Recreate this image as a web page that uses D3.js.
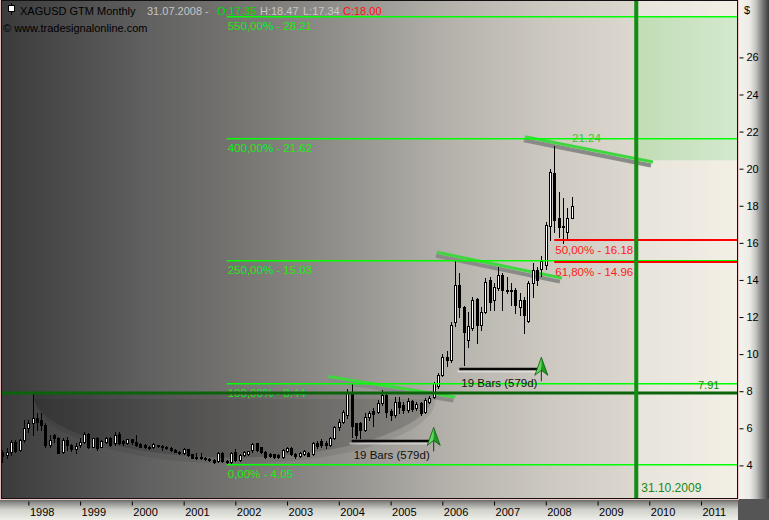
<!DOCTYPE html>
<html><head><meta charset="utf-8">
<script src="https://cdn.jsdelivr.net/npm/d3@7"></script>
<style>
body{margin:0;background:#fff}
svg{display:block}
text{font-family:"Liberation Sans",Arial,sans-serif}
</style>
</head><body>
<svg id="c" width="769" height="520"></svg>
<script>
// ---------------- DATA ----------------
const firstMonth = "1997-07-01", lastMonth = "2008-07-01";
const open = [4.74,4.56,4.74,5.28,4.83,5.37,
6.00,6.27,6.54,6.45,6.18,5.10,5.64,5.46,4.74,5.37,5.10,4.88,
5.10,5.28,5.69,5.01,5.46,5.01,5.25,5.50,5.19,5.69,5.32,5.21,
5.40,5.28,5.15,5.10,5.01,5.01,5.10,5.06,5.01,4.92,4.83,4.74,
4.65,4.87,4.60,4.44,4.45,4.40,4.33,4.29,4.22,4.69,4.25,4.18,
4.70,4.29,4.56,4.60,4.83,5.19,4.97,4.74,4.60,4.60,4.56,4.47,
4.76,4.92,4.62,4.53,4.60,4.69,4.60,5.22,5.30,5.22,5.10,5.46,
6.05,6.36,6.70,7.95,6.27,6.27,5.91,6.60,6.93,6.90,7.35,7.80,
6.95,6.72,7.44,7.26,6.99,7.49,7.08,7.35,6.90,7.44,7.71,8.30,
8.86,9.85,9.70,11.75,13.73,12.56,10.76,11.40,12.95,11.58,12.29,14.00,
12.92,13.55,14.27,13.40,13.46,13.46,12.56,12.92,11.80,13.82,14.54,14.60,
14.80,16.90,19.75,17.32,16.85,16.60,17.35];
const high = [4.83,4.92,5.37,5.35,5.45,6.45,
6.45,7.89,6.81,6.81,6.27,5.64,5.69,5.55,5.46,5.55,5.15,5.19,
5.46,5.82,5.75,5.50,5.55,5.37,5.55,5.55,5.82,5.82,5.37,5.45,
5.45,5.64,5.20,5.15,5.06,5.22,5.12,5.10,5.05,4.97,4.88,4.78,
4.92,4.90,4.62,4.65,4.65,4.45,4.38,4.33,4.74,4.72,4.30,4.70,
4.90,4.62,4.78,4.80,5.19,5.22,5.01,4.80,4.65,4.64,4.62,4.88,
5.01,4.98,4.67,4.74,4.82,4.74,5.25,5.30,5.40,5.30,5.55,6.15,
6.50,7.00,8.10,8.44,6.30,6.36,6.80,6.95,7.08,7.50,8.07,7.95,
7.03,7.71,7.71,7.40,7.62,7.55,7.40,7.44,7.62,7.75,8.50,9.00,
10.00,10.15,11.75,15.05,14.36,12.60,12.29,13.10,13.00,12.56,14.09,14.18,
13.82,14.72,14.36,14.18,13.82,13.55,13.28,13.10,13.95,14.90,14.72,15.30,
17.10,20.00,21.24,18.76,18.40,17.90,18.47];
const low = [4.20,4.38,4.56,4.70,4.75,5.28,
5.82,5.64,5.90,5.90,5.01,5.01,5.28,4.65,4.65,4.83,4.80,4.65,
5.01,5.19,4.95,4.97,4.83,4.97,5.20,5.05,5.10,5.15,5.12,5.15,
5.15,5.05,4.97,4.92,4.90,4.92,5.00,4.83,4.90,4.78,4.70,4.60,
4.60,4.50,4.38,4.36,4.35,4.29,4.22,4.15,4.18,4.18,4.05,4.15,
4.25,4.25,4.50,4.55,4.74,4.78,4.65,4.42,4.45,4.40,4.38,4.42,
4.70,4.56,4.40,4.45,4.55,4.48,4.55,4.95,5.01,4.95,5.05,5.40,
5.90,6.30,6.55,5.55,5.50,5.50,5.85,6.45,6.10,6.80,7.26,6.63,
6.45,6.63,6.85,6.85,6.90,6.95,7.00,6.72,6.85,7.35,7.65,8.20,
8.80,9.35,9.60,11.50,12.02,9.40,10.40,11.30,10.60,11.30,12.20,12.38,
12.38,13.46,12.40,13.28,12.65,12.20,12.10,11.12,11.75,13.10,13.73,14.20,
14.60,16.15,16.60,16.33,15.98,16.20,17.34];
const close = [4.51,4.74,5.28,4.78,5.37,6.03,
6.27,6.54,6.36,6.18,5.10,5.37,5.46,4.69,5.37,5.10,4.88,5.06,
5.28,5.69,5.01,5.46,4.92,5.32,5.50,5.10,5.64,5.19,5.19,5.40,
5.28,5.10,5.01,4.97,4.95,5.13,5.05,5.01,4.95,4.83,4.74,4.65,
4.87,4.56,4.42,4.40,4.38,4.33,4.29,4.20,4.69,4.22,4.16,4.65,
4.29,4.58,4.74,4.76,5.13,4.83,4.74,4.47,4.51,4.47,4.45,4.83,
4.92,4.62,4.53,4.69,4.76,4.53,5.19,5.06,5.10,5.08,5.46,6.09,
6.36,6.90,7.98,6.15,5.64,5.91,6.63,6.85,6.77,7.35,7.80,6.90,
6.72,7.44,7.17,6.97,7.49,7.03,7.31,6.81,7.55,7.62,8.42,8.87,
9.85,9.70,11.58,13.73,12.56,11.22,11.49,12.92,11.58,12.29,13.91,12.83,
13.60,14.27,13.46,13.46,13.42,12.65,12.92,12.10,13.82,14.54,14.00,15.00,
16.96,19.84,17.23,16.87,16.90,17.35,18.00];

const yTicks = [4,6,8,10,12,14,16,18,20,22,24,26];
const yearTicks = ["1998","1999","2000","2001","2002","2003","2004","2005","2006","2007","2008","2009","2010","2011"];
const xDomain = ["1998-01-01","2011-01-01"];

const fibStart = "2001-11-01";
const fibPct = ["0,00%","100,00%","250,00%","400,00%","550,00%"];
const fibVal = [4.05,8.44,15.03,21.62,28.21];
const retStart = "2008-03-01";
const retPct = ["50,00%","61,80%"];
const retVal = [16.18,14.96];
const hLineVal = 7.91;
const highLabel = 21.24;
const vLineDate = "2009-10-01";
const vLineLabel = "31.10.2009";
const zoneTop = 28.21, zoneBottom = 20.45;
const cup = {from:"1998-02-01", to:"2005-11-01", top:7.91, bottom:4.42};
const channels = [
  {d1:"2003-10-20", v1:8.79, d2:"2006-04-03", v2:7.69},
  {d1:"2005-11-24", v1:15.49, d2:"2008-04-24", v2:14.10},
  {d1:"2007-08-07", v1:21.72, d2:"2010-01-27", v2:20.36}
];
const barCounts = [
  {d1:"2004-04-01", d2:"2005-10-01", v:5.33, label:"19 Bars (579d)", arrowDate:"2005-11-01", arrowVal:6.05},
  {d1:"2006-05-01", d2:"2007-11-01", v:9.19, label:"19 Bars (579d)", arrowDate:"2007-12-01", arrowVal:9.83}
];
const headerParts = [
  {t:"XAGUSD GTM Monthly", c:"#000"},
  {t:"31.07.2008 -", c:"#c4c4c4"},
  {t:"O:17.35", c:"#00dd00"},
  {t:"H:18.47", c:"#c8c8c8"},
  {t:"L:17.34", c:"#c8c8c8"},
  {t:"C:18.00", c:"#ff1010"}
];
const headerX = [20,147,217,260,303,343];
const siteText = "\u00A9 www.tradesignalonline.com";

// ---------------- CHART ----------------
const W = 769, H = 520;
const P = {x0:2, y0:1, x1:737.5, y1:498.5};
const pd = d3.timeParse("%Y-%m-%d");
const months = d3.timeMonth.range(pd(firstMonth), d3.timeMonth.offset(pd(lastMonth),1));
const candles = months.map((d,i)=>({date:d,o:open[i],h:high[i],l:low[i],c:close[i]}));

const x = d3.scaleTime().domain(xDomain.map(pd)).range([28.4,701]);
const y = d3.scaleLinear().domain([4,26]).range([465.4,57.4]);

const svg = d3.select("#c");
const defs = svg.append("defs");
function lg(id, stops, vertical){
  const g = defs.append("linearGradient").attr("id",id)
    .attr("x1",0).attr("y1",0).attr("x2",vertical?0:1).attr("y2",vertical?1:0);
  stops.forEach(s=>g.append("stop").attr("offset",s[0]).attr("stop-color",s[1]));
}
lg("pg",[[0,"#3b3b3b"],[0.2,"#616161"],[0.31,"#73726f"],[0.45,"#908e8a"],[0.61,"#b5b2ac"],[0.75,"#cecac2"],[0.86,"#dcd8cf"],[1,"#eeeae1"]]);
lg("rg",[[0,"#f6f4ee"],[0.4,"#ecebe6"],[0.58,"#c6c6c3"],[0.8,"#7a7a7a"],[1,"#3a3a3a"]]);
lg("bg",[[0,"#5c5c5c"],[0.18,"#8e8e8b"],[0.5,"#d0d0ca"],[1,"#efefe9"]],true);
lg("gg",[[0,"#c2dcb6"],[1,"#d4e9ce"]]);
defs.append("clipPath").attr("id","clip").append("rect")
  .attr("x",P.x0).attr("y",P.y0).attr("width",P.x1-P.x0).attr("height",P.y1-P.y0);

svg.append("rect").attr("width",W).attr("height",H).attr("fill","#efefe9");
svg.append("rect").attr("x",0).attr("y",499).attr("width",740).attr("height",21).attr("fill","url(#bg)");
svg.append("rect").attr("x",737).attr("y",0).attr("width",32).attr("height",499).attr("fill","url(#rg)");
svg.append("rect").attr("x",738).attr("y",499).attr("width",31).attr("height",21).attr("fill","#555");

svg.append("rect").attr("x",P.x0).attr("y",P.y0).attr("width",P.x1-P.x0).attr("height",P.y1-P.y0).attr("fill","url(#pg)");

const g = svg.append("g").attr("clip-path","url(#clip)");
const xv = x(pd(vLineDate));

// future zone lighter
g.append("rect").attr("x",xv+2).attr("y",P.y0).attr("width",P.x1-xv-2).attr("height",P.y1-P.y0)
  .attr("fill","#fffcf4").attr("opacity",0.32);
// green target zone
g.append("rect").attr("x",xv+2).attr("y",y(zoneTop)).attr("width",P.x1-xv-2)
  .attr("height",y(zoneBottom)-y(zoneTop)).attr("fill","url(#gg)");

// cup shape
(function(){
  const x1 = x(pd(cup.from)), x2 = x(pd(cup.to)), yt = y(cup.top), yb = y(cup.bottom);
  const rx = (x2-x1)/2, ry = yb-yt;
  const path = (dx,dy)=>`M${x1+dx},${yt+dy} A${rx},${ry} 0 0 0 ${x2+dx},${yt+dy} Z`;
  g.append("path").attr("d",path(2,6)).attr("fill","#000").attr("opacity",0.08);
  g.append("path").attr("d",path(0,0)).attr("fill","#000").attr("opacity",0.15);
})();

// channels
channels.forEach(c=>{
  const a=[x(pd(c.d1)),y(c.v1)], b=[x(pd(c.d2)),y(c.v2)];
  g.append("line").attr("x1",a[0]-1).attr("y1",a[1]+3.5).attr("x2",b[0]-2).attr("y2",b[1]+3.5)
    .attr("stroke","#8a8a88").attr("stroke-width",4);
  g.append("line").attr("x1",a[0]).attr("y1",a[1]).attr("x2",b[0]).attr("y2",b[1])
    .attr("stroke","#3fd63f").attr("stroke-width",3);
});

// candles
const cg = g.append("g").attr("shape-rendering","crispEdges");
candles.forEach(d=>{
  const cx = Math.round(x(d.date));
  cg.append("line").attr("x1",cx+0.5).attr("x2",cx+0.5)
    .attr("y1",Math.round(y(d.h))).attr("y2",Math.round(y(d.l))+1).attr("stroke","#000");
  const t = Math.round(y(Math.max(d.o,d.c))), bt = Math.round(y(Math.min(d.o,d.c)));
  if (bt - t < 1) {
    cg.append("line").attr("x1",cx-1).attr("x2",cx+2).attr("y1",t+0.5).attr("y2",t+0.5).attr("stroke","#000");
  } else {
    cg.append("rect").attr("x",cx-0.5).attr("y",t+0.5).attr("width",2).attr("height",bt-t)
      .attr("fill",d.c>=d.o?"#fff":"#000").attr("stroke","#000");
  }
});

// fib extension lines
const fx = x(pd(fibStart));
fibVal.forEach((v,i)=>{
  const yy = Math.floor(y(v));
  g.append("rect").attr("x",fx).attr("y",yy).attr("width",P.x1-fx).attr("height",1.5).attr("fill","#00ff00");
  g.append("text").attr("x",fx+1).attr("y",yy+13.5).attr("font-size","11.5px").attr("fill","#16ec16")
    .text(`${fibPct[i]} - ${v.toFixed(2)}`);
});
// retracement lines
const rx0 = x(pd(retStart));
retVal.forEach((v,i)=>{
  const yy = Math.round(y(v));
  g.append("line").attr("x1",rx0).attr("x2",P.x1).attr("y1",yy).attr("y2",yy).attr("stroke","#ff0000").attr("stroke-width",2);
  g.append("text").attr("x",rx0+1).attr("y",yy+14).attr("font-size","11.5px").attr("fill","#ff1a1a")
    .text(`${retPct[i]} - ${v.toFixed(2)}`);
});
g.append("text").attr("x",572).attr("y",y(highLabel)-3.5).attr("font-size","11.5px").attr("fill","#3cc23c").text(highLabel.toFixed(2));

// horizontal dark green line
const yh = y(hLineVal);
g.append("line").attr("x1",P.x0).attr("x2",P.x1).attr("y1",yh).attr("y2",yh).attr("stroke","#0a650a").attr("stroke-width",3);
g.append("text").attr("x",698).attr("y",yh-3.5).attr("font-size","11px").attr("fill","#0f870f").text(hLineVal.toFixed(2));

// vertical line
g.append("line").attr("x1",xv).attr("x2",xv).attr("y1",P.y0).attr("y2",P.y1).attr("stroke","#138c13").attr("stroke-width",4);
g.append("text").attr("x",xv+5).attr("y",492).attr("font-size","12px").attr("fill","#178a17").text(vLineLabel);

// bar counts
barCounts.forEach(b=>{
  const a1 = x(pd(b.d1)), a2 = x(pd(b.d2)), yy = Math.round(y(b.v));
  g.append("line").attr("x1",a1-2).attr("x2",a2).attr("y1",yy+2.5).attr("y2",yy+2.5).attr("stroke","#fff").attr("opacity",0.45).attr("stroke-width",2);
  g.append("line").attr("x1",a1).attr("x2",a2).attr("y1",yy).attr("y2",yy).attr("stroke","#080808").attr("stroke-width",2.5);
  g.append("text").attr("x",a1+2).attr("y",yy+17.5).attr("font-size","11.5px").attr("fill","#111").text(b.label);
  const ax = x(pd(b.arrowDate)), ay = y(b.arrowVal);
  const ag = g.append("g").attr("transform",`translate(${ax},${ay})`);
  ag.append("line").attr("x1",0).attr("x2",0).attr("y1",10).attr("y2",24).attr("stroke","#104010").attr("stroke-width",1);
  ag.append("path").attr("d","M0,0 L-6.5,18 L0,13 Z").attr("fill","#62d862");
  ag.append("path").attr("d","M0,0 L6.5,18 L0,13 Z").attr("fill","#1f9c1f");
  ag.append("path").attr("d","M0,0 L6.5,18 L0,13 L-6.5,18 Z").attr("fill","none").attr("stroke","#0b5a0b").attr("stroke-width",0.8);
});

// header
const hg = svg.append("g");
hg.append("line").attr("x1",11.5).attr("x2",11.5).attr("y1",3).attr("y2",15).attr("stroke","#000");
hg.append("rect").attr("x",8.5).attr("y",5.5).attr("width",6).attr("height",6).attr("fill","#fff").attr("stroke","#000");
headerParts.forEach((p,i)=>{
  hg.append("text").attr("x",headerX[i]).attr("y",14.5).attr("font-size","11px").attr("fill",p.c).text(p.t);
});
hg.append("text").attr("x",3).attr("y",32).attr("font-size","11px").attr("fill","#000").text(siteText);

// plot border
svg.append("rect").attr("x",1.5).attr("y",0.5).attr("width",736).attr("height",498).attr("fill","none").attr("stroke","#111");
svg.append("line").attr("x1",0.5).attr("x2",0.5).attr("y1",0).attr("y2",500).attr("stroke","#e6b9b9");
svg.append("line").attr("x1",0).attr("x2",739).attr("y1",499.5).attr("y2",499.5).attr("stroke","#f0c6c6");
svg.append("line").attr("x1",738.5).attr("x2",738.5).attr("y1",0).attr("y2",500).attr("stroke","#f0c6c6");

// axes
const xa = svg.append("g").attr("transform","translate(0,501.5)")
  .call(d3.axisBottom(x).tickValues(yearTicks.map(s=>pd(s+"-01-01"))).tickSize(4).tickFormat(d3.timeFormat("%Y")));
xa.select(".domain").remove();
xa.selectAll("text").attr("text-anchor","start").attr("x",1).attr("font-size","11px").attr("font-family","Liberation Sans, Arial, sans-serif").attr("fill","#000");
xa.selectAll("line").attr("stroke","#000");

const ya = svg.append("g").attr("transform","translate(739.5,0)")
  .call(d3.axisRight(y).tickValues(yTicks).tickSize(4).tickPadding(3));
ya.select(".domain").remove();
ya.selectAll("text").attr("font-size","11px").attr("font-family","Liberation Sans, Arial, sans-serif").attr("fill","#000");
ya.selectAll("line").attr("stroke","#000");
svg.append("text").attr("x",744).attr("y",14).attr("font-size","11px").attr("fill","#000").text("$");
</script>
</body></html>
